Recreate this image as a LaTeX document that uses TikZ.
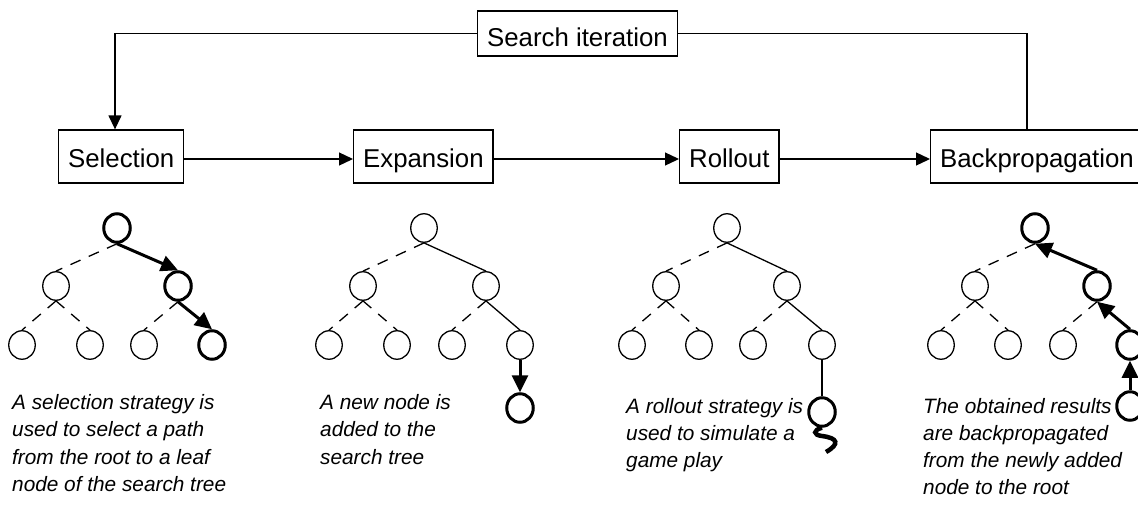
\documentclass[tikz,border=0pt]{standalone}
\usepackage{fontspec}
\setmainfont{Liberation Sans}
\usetikzlibrary{arrows.meta,shapes.geometric}

\tikzset{
  stage/.style={draw, line width=1.3pt, anchor=west, inner xsep=9.5pt, inner ysep=0pt,
    minimum height=53pt, text height=27pt, text depth=6pt, font=\fontsize{25.8}{30}\selectfont},
  vert/.style={draw, ellipse, line width=1.3pt, inner sep=0pt, minimum width=26.5pt, minimum height=28.5pt},
  hot/.style={vert, line width=3pt},
  thinedge/.style={line width=1.3pt},
  dashedge/.style={line width=1.3pt, dash pattern=on 11pt off 9pt},
  pathedge/.style={line width=3pt, -{Triangle[length=17pt,width=16pt]}},
  flow/.style={line width=1.3pt, -{Triangle[length=14pt,width=13pt]}},
  caption/.style={anchor=north west, align=left, inner sep=0pt, font=\itshape\fontsize{20.8}{27.2}\selectfont}
}

\begin{document}
\begin{tikzpicture}[x=1pt,y=-1pt]
        \useasboundingbox (0,0) rectangle (1138,504);
        \clip (0,0) rectangle (1138,504);
        % stages
        \node[stage, minimum height=45pt, text height=32pt, text depth=5.4pt] (search) at (477,33.4) {Search iteration};
        \node[stage] (sel) at (58,156.5) {Selection};
        \node[stage] (exp) at (353,156.5) {Expansion};
        \node[stage] (roll) at (679,156.5) {Rollout};
        \node[stage] (back) at (930,156.5) {Backpropagation};
        \draw[flow] (search.west) -| ([xshift=57pt]sel.north west);
        \draw[thinedge] (search.east) -| ([xshift=97pt]back.north west);
        \draw[flow] ([yshift=-2.5pt]sel.east) -- ([yshift=-2.5pt]exp.west);
        \draw[flow] ([yshift=-2.5pt]exp.east) -- ([yshift=-2.5pt]roll.west);
        \draw[flow] ([yshift=-2.5pt]roll.east) -- ([yshift=-2.5pt]back.west);
        % selection tree
        \node[hot] (s0) at (117,228) {};
        \node[vert] (s1) at (56,286) {};
        \node[hot] (s2) at (178,286) {};
        \node[vert] (s3) at (22,345) {};
        \node[vert] (s4) at (90,345) {};
        \node[vert] (s5) at (144,345) {};
        \node[hot] (s6) at (212,345) {};
        \draw[dashedge] (s0.south) -- (s1.north);
        \draw[pathedge] (s0.south) -- (s2.north);
        \draw[dashedge] (s1.south) -- (s3.north);
        \draw[dashedge] (s1.south) -- (s4.north);
        \draw[dashedge] (s2.south) -- (s5.north);
        \draw[pathedge] (s2.south) -- (s6.north);
        \node[caption] (selnote) at (12,394.5) {A selection strategy is\\used to select a path\\from the root to a leaf\\node of the search tree};
        % expansion tree
        \node[vert] (e0) at (424,228) {};
        \node[vert] (e1) at (363,286) {};
        \node[vert] (e2) at (486,286) {};
        \node[vert] (e3) at (329,345) {};
        \node[vert] (e4) at (397,345) {};
        \node[vert] (e5) at (452,345) {};
        \node[vert] (e6) at (520,345) {};
        \node[hot] (e7) at (520,408) {};
        \draw[dashedge] (e0.south) -- (e1.north);
        \draw[thinedge] (e0.south) -- (e2.north);
        \draw[dashedge] (e1.south) -- (e3.north);
        \draw[dashedge] (e1.south) -- (e4.north);
        \draw[dashedge] (e2.south) -- (e5.north);
        \draw[thinedge] (e2.south) -- (e6.north);
        \draw[pathedge] (e6.south) -- (e7.north);
        \node[caption] (expnote) at (320,394.5) {A new node is\\added to the\\search tree};
        % rollout tree
        \node[vert] (r0) at (727,228) {};
        \node[vert] (r1) at (666,286) {};
        \node[vert] (r2) at (787,286) {};
        \node[vert] (r3) at (632,345) {};
        \node[vert] (r4) at (699,345) {};
        \node[vert] (r5) at (753,345) {};
        \node[vert] (r6) at (822,345) {};
        \node[hot] (r7) at (822,412) {};
        \draw[dashedge] (r0.south) -- (r1.north);
        \draw[thinedge] (r0.south) -- (r2.north);
        \draw[dashedge] (r1.south) -- (r3.north);
        \draw[dashedge] (r1.south) -- (r4.north);
        \draw[dashedge] (r2.south) -- (r5.north);
        \draw[thinedge] (r2.south) -- (r6.north);
        \draw[thinedge] (r6.south) -- (r7.north);
        \draw[line width=4.5pt] (r7.south) .. controls (813,430) and (813,435) .. (822,436)
          .. controls (838,438) and (840,444) .. (826,452);
        \node[caption] (rollnote) at (626,398) {A rollout strategy is\\used to simulate a\\game play};
        % backpropagation tree
        \node[hot] (b0) at (1035,228) {};
        \node[vert] (b1) at (975,286) {};
        \node[hot] (b2) at (1097,286) {};
        \node[vert] (b3) at (941,345) {};
        \node[vert] (b4) at (1008,345) {};
        \node[vert] (b5) at (1063,345) {};
        \node[hot] (b6) at (1130,345) {};
        \node[hot] (b7) at (1130,406) {};
        \draw[dashedge] (b0.south) -- (b1.north);
        \draw[pathedge] (b2.north) -- (b0.south);
        \draw[dashedge] (b1.south) -- (b3.north);
        \draw[dashedge] (b1.south) -- (b4.north);
        \draw[dashedge] (b2.south) -- (b5.north);
        \draw[pathedge] (b6.north) -- (b2.south);
        \draw[pathedge] (b7.north) -- (b6.south);
        \node[caption] (backnote) at (923,398) {The obtained results\\are backpropagated\\from the newly added\\node to the root};
\end{tikzpicture}
\end{document}
